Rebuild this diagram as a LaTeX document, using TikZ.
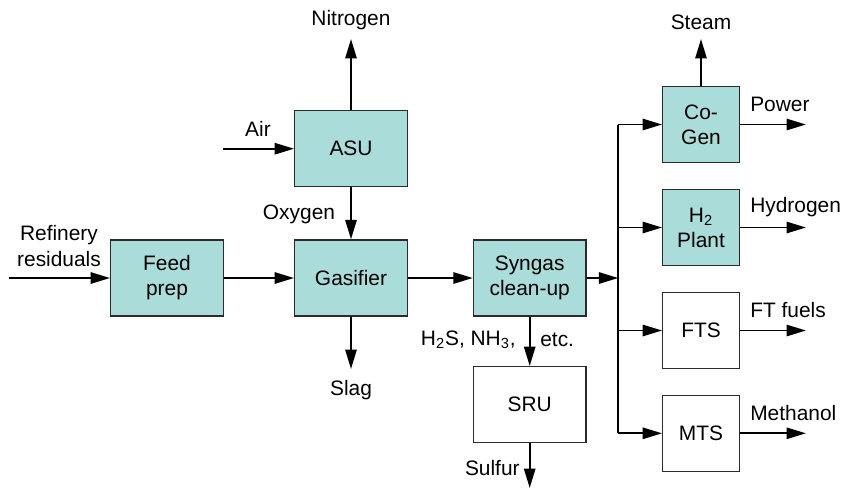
\documentclass[tikz,border=0pt]{standalone}
\usepackage{fontspec}
\setmainfont{Liberation Sans}
\usepackage{xcolor}
\usepackage{tikz}
\usetikzlibrary{arrows.meta, calc}
\definecolor{unitColor}{HTML}{AADCDA}
\definecolor{edgeColor}{HTML}{2B2B2B}
\tikzset{
    unitBox/.style={draw=edgeColor, line width=0.8pt, fill=unitColor, align=center,
        minimum width=2.25cm, minimum height=1.52cm, inner sep=1pt},
    plainBox/.style={unitBox, fill=white},
    smallBox/.style={unitBox, minimum width=1.53cm},
    flowLine/.style={line width=1.1pt},
    flowArrow/.style={flowLine, -{Triangle[length=11pt, width=6.4pt]}}
}

\begin{document}
\begin{tikzpicture}[x=0.02cm, y=-0.02cm, font=\fontsize{11.9}{14.3}\selectfont]
    \useasboundingbox (0,0) rectangle (843,488);
    \node[unitBox] (feed) at (167,278) {Feed\\prep};
    \node[unitBox] (gasifier) at (351,278) {Gasifier};
    \node[unitBox] (asu) at (351,148.7) {ASU};
    \node[unitBox] (syngas) at (529.7,278) {Syngas\\clean-up};
    \node[plainBox] (sru) at (529.7,404.7) {SRU};
    \node[smallBox] (cogen) at (701,124.5) {Co-\\Gen};
    \node[smallBox] (h2plant) at (701,227.5) {H\textsubscript{2}\\Plant};
    \node[smallBox, fill=white] (fts) at (701,330.5) {FTS};
    \node[smallBox, fill=white] (mts) at (701,433.3) {MTS};

    \coordinate (feedIn) at (9,278);
    \coordinate (airIn) at (223,148.7);
    \coordinate (nitrogenOut) at (351,39);
    \coordinate (slagOut) at (351,369);
    \coordinate (steamOut) at (701,39);
    \coordinate (sulfurOut) at (529.7,488);
    \coordinate (bus) at (618.3,278);

    \node[align=center] (refinery) at (59,246) {Refinery\\residuals};
    \node (air) at (258,129) {Air};
    \node (nitrogen) at (351,20) {Nitrogen};
    \node (oxygen) at (299,214) {Oxygen};
    \node (slag) at (351,390) {Slag};
    \node (steam) at (701,22) {Steam};
    \node[anchor=east, inner sep=0pt] (acidGas) at (516,340) {H\textsubscript{2}S, NH\textsubscript{3},};
    \node[anchor=west, inner sep=0pt] (etc) at (540,340) {etc.};
    \node[anchor=east, inner sep=0pt] (sulfur) at (520,467.7) {Sulfur};

    \draw[flowArrow] (feedIn) -- (feed.west);
    \draw[flowArrow] (feed) -- (gasifier);
    \draw[flowArrow] (airIn) -- (asu.west);
    \draw[flowArrow] (asu) -- (nitrogenOut);
    \draw[flowArrow] (asu) -- (gasifier);
    \draw[flowArrow] (gasifier) -- (slagOut);
    \draw[flowArrow] (gasifier) -- (syngas);
    \draw[flowArrow] (syngas) -- (sru);
    \draw[flowArrow] (sru) -- (sulfurOut);
    \draw[flowArrow] (syngas) -- (bus);
    \draw[flowArrow] (cogen) -- (steamOut);
    \draw[flowLine] (bus |- cogen.west) -- (bus |- mts.west);
    \foreach \unit/\product in {cogen/Power, h2plant/Hydrogen, fts/FT fuels, mts/Methanol} {
        \draw[flowArrow] (bus |- \unit.west) -- (\unit.west);
        \path (\unit.east) ++(66,0) coordinate (\unit Out);
        \draw[flowArrow] (\unit.east) -- (\unit Out);
        \node[anchor=west, inner sep=0pt] (\unit Label) at ($(\unit.east)+(10,-20)$) {\product};
    }
\end{tikzpicture}
\end{document}
